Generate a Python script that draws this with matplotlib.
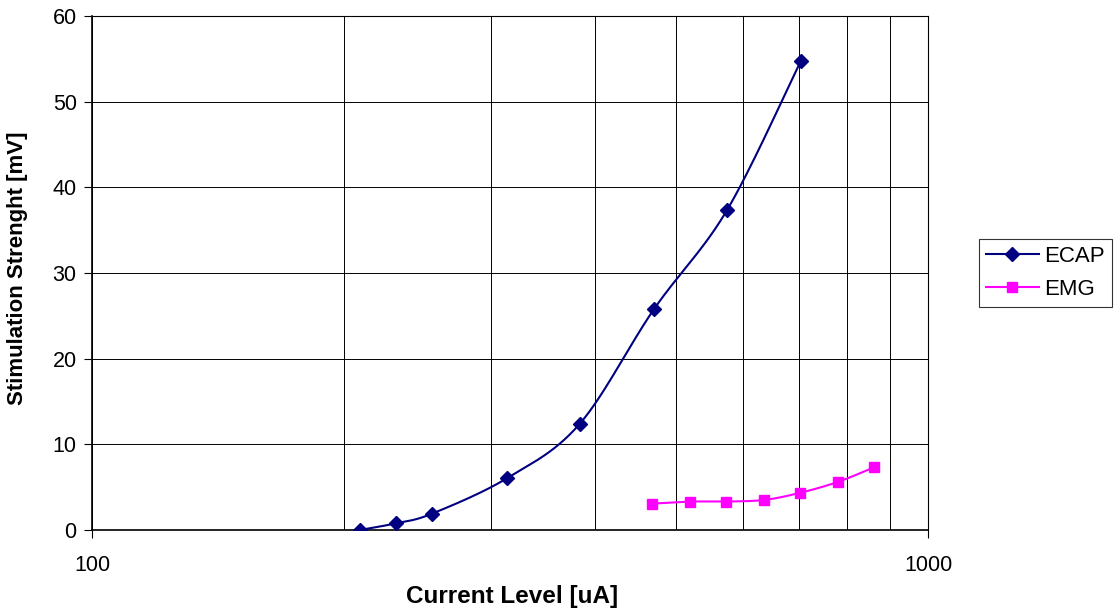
import numpy as np
import matplotlib
matplotlib.use("Agg")
import matplotlib.pyplot as plt
from matplotlib.ticker import FixedLocator, NullFormatter

plt.rcParams['font.family'] = ['Liberation Sans', 'DejaVu Sans']

ecap_x = [209, 231, 255, 314, 383, 470, 575, 704]
ecap_y = [0.0, 0.78, 1.9, 6.07, 12.37, 25.76, 37.35, 54.7]
emg_x = [468, 519, 574, 637, 703, 780, 862]
emg_y = [3.08, 3.32, 3.32, 3.51, 4.34, 5.61, 7.32]

x_limits = [100, 1000]
y_limits = [0, 60]
y_ticks = [0, 10, 20, 30, 40, 50, 60]
x_minor = [200, 300, 400, 500, 600, 700, 800, 900]

fig = plt.figure(figsize=(11.2, 6.11), dpi=100)
ax = fig.add_axes([92/1120, 1-530/611, (928-92)/1120, (530-16)/611])
ax.set_xscale('log')
ax.set_xlim(x_limits)
ax.set_ylim(y_limits)
ax.set_yticks(y_ticks)
ax.set_xticks([100, 1000])
ax.set_xticklabels(['100', '1000'])
ax.xaxis.set_minor_locator(FixedLocator(x_minor))
ax.xaxis.set_minor_formatter(NullFormatter())
ax.tick_params(axis='x', which='minor', length=0)
ax.tick_params(axis='both', which='major', length=6, width=0.8, direction='out',
               labelsize=15.5, color='black')
ax.tick_params(axis='x', pad=12)
ax.tick_params(axis='y', pad=5)
ax.grid(True, which='major', axis='y', color='black', lw=0.7)
ax.grid(True, which='both', axis='x', color='black', lw=0.7)
for s in ax.spines.values():
    s.set_linewidth(0.8)
    s.set_color('black')
ax.spines['left'].set_linewidth(1.2)
ax.spines['bottom'].set_linewidth(1.2)


def smooth(xs, ys, n=30):
    tr = ax.transData
    pts = tr.transform(np.column_stack([xs, ys]))
    m = len(pts)
    out = [pts[0]]
    for i in range(m - 1):
        p0 = pts[i - 1] if i > 0 else pts[i]
        p1 = pts[i]
        p2 = pts[i + 1]
        p3 = pts[i + 2] if i + 2 < m else pts[i + 1]
        c1 = p1 + (p2 - p0) / 6.0
        c2 = p2 - (p3 - p1) / 6.0
        t = np.linspace(0, 1, n)[1:, None]
        b = ((1 - t) ** 3) * p1 + 3 * ((1 - t) ** 2) * t * c1 + 3 * (1 - t) * t ** 2 * c2 + t ** 3 * p2
        out.extend(b)
    out = np.array(out)
    d = tr.inverted().transform(out)
    return d[:, 0], d[:, 1]


sx, sy = smooth(ecap_x, ecap_y)
ax.plot(sx, sy, color='#000080', lw=1.5, zorder=3)
ax.plot(ecap_x, ecap_y, ls='none', marker='D', ms=7.5, color='#000080', zorder=4)
sx, sy = smooth(emg_x, emg_y)
ax.plot(sx, sy, color='#FF00FF', lw=1.5, zorder=3)
ax.plot(emg_x, emg_y, ls='none', marker='s', ms=7.5, color='#FF00FF', zorder=4)

# legend proxies
h1, = ax.plot([], [], color='#000080', lw=1.5, marker='D', ms=7)
h2, = ax.plot([], [], color='#FF00FF', lw=1.5, marker='s', ms=7)
leg = fig.legend([h1, h2], ['ECAP', 'EMG'], loc='upper left',
                 bbox_to_anchor=(979/1120, 1-239/611), fontsize=16,
                 frameon=True, fancybox=False, edgecolor='black',
                 handlelength=2.4, borderpad=0.3, labelspacing=0.55,
                 handletextpad=0.25, borderaxespad=0)
leg.get_frame().set_linewidth(0.8)

ax.set_xlabel('Current Level [uA]', fontsize=17.5, fontweight='bold', va='center')
ax.xaxis.set_label_coords(0.502, -(597-530)/514)
ax.set_ylabel('Stimulation Strenght [mV]', fontsize=16, fontweight='bold', va='center')
ax.yaxis.set_label_coords((18-92)/836, 0.51)

fig.savefig('out.png', dpi=100)
